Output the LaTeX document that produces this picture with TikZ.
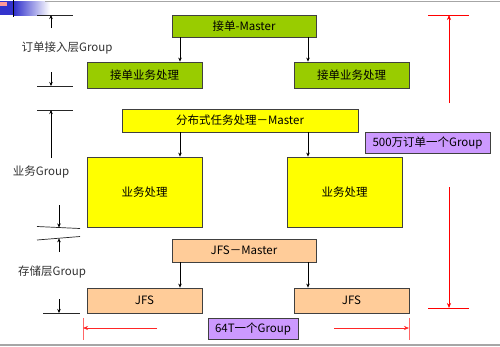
\documentclass[tikz,border=0pt]{standalone}
\usepackage{fontspec}
\setmainfont{Noto Sans CJK SC}
\usetikzlibrary{arrows.meta}
\definecolor{gbox}{HTML}{99CC00}
\definecolor{ybox}{HTML}{FFFF00}
\definecolor{pbox}{HTML}{FFCC99}
\definecolor{vbox}{HTML}{CC99FF}
\definecolor{bord}{HTML}{404040}
\definecolor{deco}{HTML}{3333CC}
\tikzset{
  boxbase/.style={draw=bord, line width=0.8pt, inner sep=0pt, font=\fontsize{11.5}{13}\selectfont, text=black},
  greenbox/.style={boxbase, fill=gbox},
  yellowbox/.style={boxbase, fill=ybox},
  peachbox/.style={boxbase, fill=pbox},
  purplebox/.style={boxbase, fill=vbox, draw=bord},
  arr/.style={-{Stealth[length=4pt,width=3.5pt]}, line width=0.6pt, black},
  redarr/.style={-{Stealth[length=5pt,width=4pt]}, line width=0.6pt, red},
  redline/.style={line width=0.6pt, red},
  tick/.style={line width=0.7pt, black!85},
  sidelabel/.style={font=\fontsize{11.5}{13}\selectfont, text=black!80, inner sep=0pt}
}
\begin{document}
\begin{tikzpicture}[x=1pt,y=-1pt]
\useasboundingbox (0,0) rectangle (500,346);
\fill[white] (0,0) rectangle (500,346);
% top decoration
\fill[deco] (0,1) rectangle (14,15);
\shade[left color=deco, right color=white] (14,1) rectangle (50,15);
\fill[pink!80!red] (0,2) rectangle (7,6);
\draw[black, line width=1pt] (13.5,0) -- (13.5,17);
\draw[black!35, line width=1.2pt] (45,1.5) -- (500,1.5);
\draw[black!35, line width=1.2pt] (0,345) -- (500,345);

% boxes
\node[greenbox, minimum width=144pt, minimum height=22pt] (m1) at (244,26) {接单-Master};
\node[greenbox, minimum width=115pt, minimum height=26pt] (g1) at (144.5,75) {接单业务处理};
\node[greenbox, minimum width=115pt, minimum height=26pt] (g2) at (351.5,75) {接单业务处理};
\node[yellowbox, minimum width=236pt, minimum height=23pt] (m2) at (240,120.5) {分布式任务处理－Master};
\node[yellowbox, minimum width=115pt, minimum height=70pt] (y1) at (144.5,192) {业务处理};
\node[yellowbox, minimum width=115pt, minimum height=70pt] (y2) at (344.5,192) {业务处理};
\node[peachbox, minimum width=144pt, minimum height=23pt] (m3) at (244,250.5) {JFS－Master};
\node[peachbox, minimum width=115pt, minimum height=25pt] (j1) at (144.5,300.5) {JFS};
\node[peachbox, minimum width=115pt, minimum height=25pt] (j2) at (351.5,300.5) {JFS};
\node[purplebox, minimum width=125pt, minimum height=21pt] (p1) at (427.5,142.5) {500万订单一个Group};
\node[purplebox, minimum width=90pt, minimum height=21pt] (p2) at (253,328.5) {64T一个Group};

% arrows
\coordinate (cl) at (180,0);
\coordinate (cr) at (308,0);
\draw[arr] (m1.south -| cl) -- (g1.north -| cl);
\draw[arr] (m1.south -| cr) -- (g2.north -| cr);
\draw[arr] (m2.south -| cl) -- (y1.north -| cl);
\draw[arr] (m2.south -| cr) -- (y2.north -| cr);
\draw[arr] (m3.south -| cl) -- (j1.north -| cl);
\draw[arr] (m3.south -| cr) -- (j2.north -| cr);

% left side labels and dimension marks
\node[sidelabel] (l1) at (67,48) {订单接入层Group};
\node[sidelabel] (l2) at (41,172) {业务Group};
\node[sidelabel] (l3) at (52,272) {存储层Group};

\coordinate (t1a) at (37,15); \coordinate (t1b) at (73,15);
\coordinate (t2a) at (37,86); \coordinate (t2b) at (73,86);
\coordinate (t3a) at (37,110); \coordinate (t3b) at (73,110);
\coordinate (t4a) at (37,226.5); \coordinate (t4b) at (80,228.5);
\coordinate (t5a) at (37,240); \coordinate (t5b) at (80,236.5);
\coordinate (t6a) at (43,313); \coordinate (t6b) at (80,313);
\draw[tick] (t1a) -- (t1b);
\draw[tick] (t2a) -- (t2b);
\draw[tick] (t3a) -- (t3b);
\draw[tick] (t4a) -- (t4b);
\draw[tick] (t5a) -- (t5b);
\draw[tick] (t6a) -- (t6b);

\coordinate (s1) at (51,28); \coordinate (s2) at (51,72);
\coordinate (s3) at (51,158); \coordinate (s4) at (59,205);
\coordinate (s5) at (59,252); \coordinate (s6) at (59,299);
\draw[arr] (s1) -- (s1 |- t1a);
\draw[arr] (s2) -- (s2 |- t2a);
\draw[arr] (s3) -- (s3 |- t3a);
\draw[arr] (s4) -- (59,227.5);
\draw[arr] (s5) -- (59,238.3);
\draw[arr] (s6) -- (s6 |- t6a);

% red dimensions
\coordinate (r1a) at (428,15); \coordinate (r1b) at (469,15);
\coordinate (r2a) at (428,308); \coordinate (r2b) at (469,308);
\draw[redline] (r1a) -- (r1b);
\draw[redline] (r2a) -- (r2b);
\coordinate (rv1) at (449,103); \coordinate (rv2) at (449,187);
\draw[redarr] (rv1) -- (rv1 |- r1a);
\draw[redarr] (rv2) -- (rv2 |- r2a);

\coordinate (h1a) at (83,318); \coordinate (h1b) at (83,340);
\coordinate (h2a) at (409,318); \coordinate (h2b) at (409,340);
\draw[redline, red!60] (h1a) -- (h1b);
\draw[redline, red!60] (h2a) -- (h2b);
\coordinate (rh1) at (157,328); \coordinate (rh2) at (334,328);
\draw[redarr, red!85] (rh1) -- (rh1 -| h1a);
\draw[redarr, red!85] (rh2) -- (rh2 -| h2a);
\end{tikzpicture}
\end{document}
